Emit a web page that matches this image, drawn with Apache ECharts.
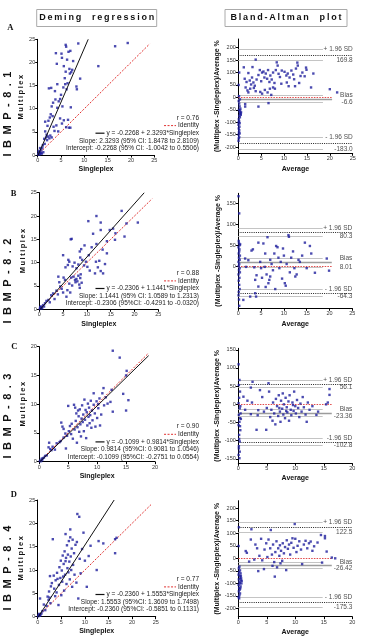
<!DOCTYPE html>
<html>
<head>
<meta charset="utf-8">
<script src="https://cdn.jsdelivr.net/npm/echarts@6/dist/echarts.min.js"></script>
<style>
html, body { margin: 0; padding: 0; background: #fff; }
#chart { width: 384px; height: 644px; }
</style>
</head>
<body>
<div id="chart"></div>
<script>
// ---- Deming regression points (Singleplex, Multiplex) ----
var demingA = [[0.1,0.1],[0.2,0.3],[0.3,0.1],[0.4,0.5],[0.5,0.2],[0.6,0.8],[0.3,0.6],[0.7,0.4],[0.8,1.2],[0.9,0.3],[1.0,1.6],[1.2,0.6],[0.5,1.5],[1.1,2.1],[0.2,0.9],
  [1.4,3.5],[1.5,2.4],[1.8,3.8],[1.6,5.1],[2.0,3.2],[2.2,4.0],[2.5,3.6],[1.9,4.4],[2.7,4.2],[3.0,3.8],[1.6,7.2],[2.3,7.4],[2.6,8.1],[2.8,8.8],[3.2,8.4],[2.1,6.3],[3.4,6.1],[3.6,5.2],[4.0,6.4],[4.4,5.1],[4.8,7.9],[5.2,6.8],[5.6,7.5],[6.1,6.0],[6.7,5.9],[6.5,7.6],[7.1,10.3],[7.0,5.9],
  [3.0,10.5],[3.3,11.3],[3.8,12.0],[4.2,10.2],[4.5,11.6],[4.8,12.1],[5.0,13.0],[5.3,10.5],[5.5,14.6],[5.9,15.3],[6.2,14.2],[2.4,14.4],[2.9,14.5],[3.7,13.8],[4.2,15.3],[5.8,16.6],[6.0,18.0],[6.4,15.5],[6.9,17.6],[7.2,17.9],[7.4,18.4],[6.8,18.6],[5.6,19.2],[6.3,20.6],[5.2,21.0],[7.6,20.3],[8.3,14.8],[8.4,14.2],[9.1,16.5],[4.1,19.7],[6.6,22.3],[3.9,22.0],[5.1,21.9],[6.0,23.8],[6.1,23.4],[8.7,24.1],[7.0,22.5],
  [13.0,19.2],[16.6,23.5],[19.3,24.2]];
var demingB = [[0.1,0.1],[0.2,0.3],[0.3,0.2],[0.4,0.6],[0.5,0.4],[0.2,0.5],[0.6,0.2],[0.8,0.9],[1.0,0.6],[1.2,1.3],[1.5,1.8],[1.9,2.0],[2.2,1.5],[2.5,3.0],[2.9,3.4],[3.2,2.2],[3.6,4.0],[3.9,3.2],[4.0,7.0],[4.4,4.9],[4.2,5.8],[4.7,4.4],[5.0,3.6],[5.1,6.8],[5.4,6.3],[5.7,2.7],[5.9,4.1],[6.3,5.5],[6.5,3.6],[6.7,6.8],[6.9,5.1],[7.2,7.0],[7.5,6.3],[7.6,5.8],[7.8,6.5],[8.0,6.0],[8.2,7.2],[8.4,5.3],[8.5,4.6],[8.6,6.7],[8.7,7.5],[8.9,5.7],
  [6.0,9.5],[6.3,10.2],[6.1,10.6],[5.0,11.6],[5.5,9.0],[7.0,9.2],[7.4,10.0],[7.8,8.8],[8.2,9.6],[8.5,12.4],[8.8,12.9],[8.6,11.1],[9.0,10.6],[9.4,9.4],[9.8,10.2],[10.1,9.1],[10.4,11.6],[10.6,8.3],[11.0,13.3],[11.7,7.7],[11.9,10.2],[12.3,9.0],[12.6,10.4],[12.9,8.2],[13.4,7.7],[13.3,12.8],[13.8,9.7],[14.2,12.0],[6.8,15.1],[6.6,15.0],[10.3,18.9],[12.0,20.0],[12.9,18.6],[12.9,17.0],[14.8,17.0],[14.2,14.6],[15.9,14.9],[15.5,17.3],[16.0,16.3],[17.3,21.1],[17.9,15.6],[18.3,18.4],[20.7,18.6],[12.0,14.0],[11.3,16.2],[9.5,13.7]];
var demingC = [[0.1,0.1],[0.2,0.2],[0.3,0.1],[0.4,0.5],[0.5,0.3],[0.6,0.6],[0.8,0.7],[1.0,1.0],[1.3,1.1],[1.6,2.5],[1.7,3.3],[1.9,2.2],[2.1,2.0],[2.3,2.6],[3.5,3.4],[3.7,3.6],[3.8,6.8],[4.0,6.1],[4.2,5.7],[4.5,4.9],[4.6,2.3],[4.8,4.5],[5.1,5.3],[5.3,6.2],[5.5,4.8],[5.6,6.6],[5.8,4.0],[6.0,9.9],[6.1,5.6],[6.3,7.1],[6.4,8.4],[6.5,3.3],[6.6,6.0],[6.7,8.9],[6.8,7.9],[6.9,5.2],[7.0,9.1],[7.1,6.5],[7.2,4.4],[7.3,7.5],[7.4,9.8],[7.5,6.9],[7.6,8.2],[7.7,5.3],[7.8,10.8],[7.9,7.3],[8.0,9.0],[8.1,4.1],[8.2,8.6],[8.3,6.3],[8.4,10.1],[8.5,7.8],[8.6,9.4],[8.7,6.7],[8.8,8.1],[8.9,10.6],[9.0,5.9],[9.1,8.9],[9.2,7.2],[9.4,9.9],[9.6,8.4],[9.7,6.1],[9.9,10.5],[10.0,7.6],[10.2,9.3],[10.4,11.0],[10.5,6.3],[10.7,8.2],[10.9,11.9],[11.1,12.8],[11.2,9.8],[11.5,11.2],[11.8,10.1],[12.3,10.4],[12.5,12.5],[12.7,8.7],[12.7,19.3],[13.9,18.1],[14.5,11.8],[15.0,8.9],[15.1,15.8],[15.4,10.7],[15.0,15.0],[9.4,11.9],[10.2,10.0],[6.2,9.4],[5.0,9.7],[4.2,4.2],[3.0,3.2],[2.7,2.1]];
var demingD = [[0.1,0.1],[0.2,0.3],[0.3,0.2],[0.4,0.4],[0.5,0.2],[0.6,0.5],[0.3,0.6],[0.8,0.7],[1.0,1.2],[0.5,3.9],[1.3,2.6],[1.6,1.4],[1.9,2.3],[2.1,4.3],[2.3,3.6],[2.5,4.1],[2.7,2.9],[2.4,5.4],[2.8,6.5],[2.6,8.7],[3.0,7.2],[3.2,16.6],[3.4,8.8],[3.5,6.0],[3.7,4.4],[3.8,7.8],[4.0,5.2],[4.1,9.4],[4.2,8.1],[4.4,2.5],[4.5,6.8],[4.6,10.6],[4.8,8.3],[4.9,12.0],[5.0,4.6],[5.1,9.9],[5.2,7.5],[5.3,13.1],[5.4,8.6],[5.5,11.3],[5.6,5.6],[5.7,14.0],[5.8,9.0],[5.9,11.9],[6.0,12.6],[6.1,7.0],[6.2,15.3],[6.3,10.4],[6.4,13.3],[6.5,9.5],[6.6,16.2],[6.7,11.8],[6.8,8.0],[6.9,18.7],[7.0,12.9],[7.1,10.0],[7.2,14.6],[7.3,6.4],[7.4,16.5],[7.5,11.1],[7.7,13.6],[7.8,9.0],[8.0,15.4],[8.2,7.3],[8.3,16.0],[8.4,22.0],[8.6,3.9],[8.8,21.4],[8.9,12.4],[9.1,9.3],[9.4,14.5],[9.7,18.0],[10.0,12.0],[10.4,6.4],[10.8,13.0],[11.2,15.2],[12.5,10.0],[12.9,16.2],[13.9,15.7],[16.4,13.6],[16.4,16.6],[16.7,16.9],[6.9,17.0],[5.9,17.7]];

// Deming fit and identity line end points
var fitA = [[0,-0.2268],[10.83,25]], identA = [[0,0],[24,24]];
var fitB = [[0,-0.2306],[22.05,25]], identB = [[0,0],[23.7,23.7]];
var fitC = [[0,-0.1099],[18.9,18.44]], identC = [[0,0],[18.9,18.9]];
var fitD = [[0,-0.2360],[16.2,25]], identD = [[0,0],[24,24]];

var statsA = ['r = 0.76', 'Identity', 'y = -0.2268 + 2.3293*Singleplex', 'Slope: 2.3293 (95% CI: 1.8478 to 2.8109)', 'Intercept: -0.2268 (95% CI: -1.0042 to 0.5506)'];
var statsB = ['r = 0.88', 'Identity', 'y = -0.2306 + 1.1441*Singleplex', 'Slope: 1.1441 (95% CI: 1.0589 to 1.2313)', 'Intercept: -0.2306 (95%CI: -0.4291 to -0.0320)'];
var statsC = ['r = 0.90', 'Identity', 'y = -0.1099 + 0.9814*Singleplex', 'Slope: 0.9814 (95%CI: 0.9081 to 1.0546)', 'Intercept: -0.1099 (95%CI: -0.2751 to 0.0554)'];
var statsD = ['r = 0.77', 'Identity', 'y = -0.2360 + 1.5553*Singleplex', 'Slope: 1.5553 (95%CI: 1.3609 to 1.7498)', 'Intercept: -0.2360 (95%CI: -0.5851 to 0.1131)'];

// ---- Bland-Altman points (Average, difference %) ----
var baA = [[0.05,-175],[0.1,-165],[0.08,-150],[0.15,-140],[0.2,-132],[0.1,-125],[0.25,-118],[0.05,-110],[0.3,-104],[0.18,-96],[0.12,-88],[0.35,-80],[0.22,-74],[0.4,-66],[0.3,-58],[0.15,-50],[0.5,-64],[0.45,-45],[0.6,-60],[0.28,-36],[0.2,-25],[0.1,-15],[0.35,-8],[0.15,5],[0.08,50],[0.2,100],[0.4,-52],[0.55,-70],[0.1,-100],[0.3,-145],[0.2,-160],
  [1.2,121],[3.1,122],[3.8,152],[8.4,141],[8.6,128],[12.9,140],[13.0,128],[14.8,120],[14.9,111],[1.4,75],[1.8,62],[2.2,98],[2.5,68],[2.8,52],[3.0,80],[3.3,60],[3.6,47],[4.0,72],[4.4,90],[4.7,110],[5.0,65],[5.2,100],[5.5,104],[5.7,80],[6.0,96],[6.3,75],[6.5,110],[6.8,62],[7.0,88],[7.3,72],[7.6,100],[7.9,58],[8.2,110],[8.8,95],[9.1,82],[9.5,108],[10.1,103],[10.5,88],[10.8,96],[11.2,80],[11.6,108],[12.0,92],[12.2,73],[12.6,116],[13.3,58],[13.6,86],[14.0,100],[14.5,85],[16.4,96],
  [1.6,40],[2.0,28],[2.6,35],[3.4,38],[4.8,22],[5.8,30],[6.4,20],[7.2,10],[8.0,35],[9.4,55],[10.6,60],[11.0,45],[12.4,45],[15.9,40],[20.0,33],[21.6,20],[1.5,-27],[1.5,-37],[4.4,-37],[6.6,-23],[5.2,15],[3.8,25],[2.2,20],[6.9,35],[7.6,40]];
var baB = [[0.05,167],[0.2,126],[0.1,60],[0.15,55],[0.3,50],[0.05,45],[0.25,40],[0.2,35],[0.1,30],[0.35,25],[0.15,20],[0.3,15],[0.05,10],[0.2,5],[0.1,0],[0.3,-5],[0.15,-10],[0.05,-20],[0.25,-28],[0.1,-35],[0.2,-45],[0.3,-55],[0.1,-62],[0.05,-70],[0.15,-80],[0.2,-95],[0.4,52],[0.35,-15],
  [1.1,-81],[1.7,-2],[1.5,18],[2.2,14],[2.6,-73],[2.9,37],[3.2,40],[3.7,-33],[3.7,-65],[3.9,-73],[4.0,-22],[4.4,-49],[4.4,56],[4.8,10],[5.0,-5],[5.5,54],[5.8,-2],[5.9,30],[6.2,-20],[6.4,69],[6.6,-41],[6.8,-33],[7.0,-25],[7.0,15],[7.3,5],[7.6,-10],[7.9,30],[8.3,48],[8.6,45],[8.8,20],[9.0,-5],[9.3,10],[9.6,-30],[10.0,25],[10.2,-41],[10.4,-47],[10.6,5],[11.0,74],[11.1,70],[11.3,-15],[11.6,20],[12.0,35],[12.3,-5],[12.8,-20],[13.2,15],[13.5,10],[14.0,25],[14.6,56],[15.0,-5],[15.7,48],[16.0,30],[16.8,-16],[19.4,18],[19.9,-11],[8.1,-55],[6.0,-50],[5.2,-28],[3.5,-3],[9.8,42],[12.5,-25]];
var baC = [[0.05,110],[0.2,67],[0.1,53],[0.3,35],[0.15,18],[0.05,3],[0.25,-11],[0.1,-29],[0.3,-38],[0.2,-48],[0.05,-57],[0.35,-71],[0.15,-84],[0.25,-102],[0.1,-121],[0.05,-139],[0.2,-148],[0.4,-25],[0.45,-40],[0.3,-60],[0.15,-95],[0.35,-5],[0.1,-115],[0.25,-130],
  [0.9,21],[1.2,-15],[1.6,10],[2.2,46],[2.5,62],[2.2,-27],[2.4,5],[3.2,-70],[3.5,-16],[3.8,39],[3.4,-30],[4.2,20],[4.5,-20],[4.9,-70],[5.0,-10],[5.3,58],[5.4,35],[5.6,-35],[5.8,-15],[6.0,-45],[6.1,5],[6.3,-25],[6.5,-55],[6.6,15],[6.8,-5],[7.0,-32],[7.1,25],[7.3,-20],[7.4,-48],[7.5,10],[7.7,-12],[7.8,30],[7.9,-28],[8.0,0],[8.2,-38],[8.3,18],[8.5,-8],[8.6,-22],[8.8,8],[8.9,-45],[9.0,25],[9.2,-15],[9.3,-30],[9.5,5],[9.7,-18],[9.8,35],[10.0,-5],[10.1,-25],[10.3,12],[10.5,-10],[10.7,-35],[10.9,2],[11.1,-20],[11.3,20],[11.5,-8],[11.8,-28],[12.0,-48],[12.2,5],[12.5,-15],[13.0,-5],[13.7,-29],[14.0,-20],[15.4,0],[15.7,5],[16.0,26],[16.0,42],[7.2,-10],[8.4,-18],[9.6,-2]];
var baD = [[0.1,124],[0.05,49],[0.2,-33],[0.1,-40],[0.3,-48],[0.15,-55],[0.4,-60],[0.05,-65],[0.25,-70],[0.35,-78],[0.1,-84],[0.45,-88],[0.2,-95],[0.3,-100],[0.05,-106],[0.4,-112],[0.15,-118],[0.25,-125],[0.5,-80],[0.55,-100],[0.1,-132],[0.3,-140],[0.2,-148],[0.05,-155],[0.35,-120],[0.45,-70],[0.6,-90],[0.15,-160],
  [1.3,29],[1.5,22],[1.9,-13],[2.2,75],[2.3,116],[2.8,-5],[3.0,55],[3.3,40],[3.5,-51],[3.7,10],[4.0,78],[4.2,-8],[4.5,-43],[4.6,35],[4.9,60],[5.1,5],[5.3,75],[5.6,40],[5.7,113],[5.9,15],[6.1,55],[6.3,-15],[6.4,-73],[6.5,25],[6.7,68],[6.8,-36],[7.0,40],[7.2,10],[7.3,52],[7.5,30],[7.7,-10],[7.8,60],[8.0,20],[8.2,45],[8.4,-47],[8.5,72],[8.7,38],[8.9,55],[9.1,15],[9.3,62],[9.5,80],[9.7,42],[9.9,137],[10.0,78],[10.2,25],[10.4,50],[10.7,68],[11.0,35],[11.2,-23],[11.5,55],[11.8,70],[12.1,40],[12.4,60],[12.7,67],[13.0,30],[13.3,48],[13.9,63],[14.5,93],[14.7,-17],[15.2,80],[15.2,89],[15.5,27],[16.4,3],[17.0,0],[6.0,-30],[7.4,-20]];

// upper limit, bias, lower limit
var limitsA = [169.8, -6.6, -183.0];
var limitsB = [80.3, 8.01, -64.3];
var limitsC = [56.1, -23.36, -102.8];
var limitsD = [122.5, -26.42, -175.3];
// confidence bands (hi, lo) of upper limit, bias, lower limit
var bandsA = [195, 151, 8, -20, -161, -209];
var bandsB = [90, 71, 18, -2, -55, -73];
var bandsC = [65, 46, -14, -33, -92, -113];
var bandsD = [144, 104, -14, -38, -157, -194];
var limitTextA = ['169.8', '-6.6', '-183.0'];
var limitTextB = ['80.3', '8.01', '-64.3'];
var limitTextC = ['56.1', '-23.36', '-102.8'];
var limitTextD = ['122.5', '-26.42', '-175.3'];
var lowerSdText = ['- 1.96 SD', '- 1.96 SD', '-1.96 SD', '- 1.96 SD'];

var baTicksA = [-200, -150, -100, -50, 0, 50, 100, 150, 200];
var baTicksB = [0, 50, 100, 150];
var baTicksC = [-150, -100, -50, 0, 50, 100, 150];
var baTicksD = [-200, -150, -100, -50, 0, 50, 100, 150, 200];

var FONT = '"Liberation Sans", Arial, Helvetica, sans-serif';
var TS = '\u2009';

// layout: [left, top, width, height]
var demingPanels = [
  { box: [37.7, 39.3, 116.6, 115.7], xMax: 25, yMax: 25, pts: demingA, fit: fitA, ident: identA, stats: statsA, statY: 118 },
  { box: [39.3, 192.7, 119, 116.6], xMax: 25, yMax: 25, pts: demingB, fit: fitB, ident: identB, stats: statsB, statY: 273.3 },
  { box: [39.3, 346.7, 115.7, 115], xMax: 20, yMax: 20, pts: demingC, fit: fitC, ident: identC, stats: statsC, statY: 426.7 },
  { box: [37.7, 500, 118, 116.7], xMax: 25, yMax: 25, pts: demingD, fit: fitD, ident: identD, stats: statsD, statY: 579.3 }
];
var baPanels = [
  { box: [238.3, 39, 114.4, 114.3], xMax: 25, yMin: -225, yMax: 235, pts: baA, lim: limitsA, band: bandsA, txt: limitTextA, ticks: baTicksA, gap: 12.5 },
  { box: [238.3, 193.3, 114, 115], xMax: 25, yMin: -101, yMax: 174, pts: baB, lim: limitsB, band: bandsB, txt: limitTextB, ticks: baTicksB, gap: 12.5 },
  { box: [238.3, 348.3, 114, 115], xMax: 20, yMin: -162, yMax: 154, pts: baC, lim: limitsC, band: bandsC, txt: limitTextC, ticks: baTicksC, gap: 11 },
  { box: [238.3, 500.7, 114, 116], xMax: 20, yMin: -233, yMax: 230, pts: baD, lim: limitsD, band: bandsD, txt: limitTextD, ticks: baTicksD, gap: 12 }
];

var measureCtx = document.createElement('canvas').getContext('2d');
function textWidth(s, size) {
  measureCtx.font = size + 'px "Liberation Sans", Arial, sans-serif';
  return measureCtx.measureText(s).width;
}

var axisCommon = {
  axisLine: { show: true, onZero: false, lineStyle: { color: '#000', width: 1 } },
  axisTick: { show: true, length: 2.5, lineStyle: { color: '#000', width: 1 } },
  axisLabel: { fontSize: 5.5, color: '#333', margin: 2.5, fontFamily: FONT },
  splitLine: { show: false }
};
function axis(extra) {
  return Object.assign({}, JSON.parse(JSON.stringify(axisCommon)), extra);
}

var grids = [], xAxes = [], yAxes = [], series = [], graphics = [];
var dotColor = '#1e1e9c';

demingPanels.forEach(function (p, i) {
  grids.push({ left: p.box[0], top: p.box[1], width: p.box[2], height: p.box[3] });
  xAxes.push(axis({ gridIndex: i, type: 'value', min: 0, max: p.xMax, interval: 5,
    name: 'Singleplex', nameLocation: 'middle', nameGap: 11,
    nameTextStyle: { fontSize: 7, fontWeight: 'bold', color: '#111', fontFamily: FONT } }));
  yAxes.push(axis({ gridIndex: i, type: 'value', min: 0, max: p.yMax, interval: 5,
    name: 'M u l t i p l e x'.split(' ').join(TS), nameLocation: 'middle', nameGap: 12,
    nameTextStyle: { fontSize: 7.5, fontWeight: 'bold', color: '#111', fontFamily: FONT } }));
  series.push({ type: 'scatter', xAxisIndex: i, yAxisIndex: i, data: p.pts, symbol: 'rect', symbolSize: 2.4,
    itemStyle: { color: dotColor }, silent: true, z: 3 });
  series.push({ type: 'line', xAxisIndex: i, yAxisIndex: i, data: p.ident, showSymbol: false, silent: true,
    lineStyle: { color: '#e0302f', width: 1, type: [2, 1.5] }, z: 2 });
  series.push({ type: 'line', xAxisIndex: i, yAxisIndex: i, data: p.fit, showSymbol: false, silent: true,
    lineStyle: { color: '#111', width: 1 }, z: 4 });

  // statistics block, right aligned
  var rightX = 199, step = 7.6;
  p.stats.forEach(function (s, k) {
    graphics.push({ type: 'text', x: rightX, y: p.statY + k * step, silent: true,
      style: { text: s, fontSize: 6.5, fontFamily: FONT, fill: '#222', align: 'right', verticalAlign: 'middle' } });
  });
  var wId = textWidth(p.stats[1], 6.5);
  var wEq = textWidth(p.stats[2], 6.5);
  var yId = p.statY + step, yEq = p.statY + 2 * step;
  graphics.push({ type: 'line', silent: true,
    shape: { x1: rightX - wId - 14, y1: yId, x2: rightX - wId - 2, y2: yId },
    style: { stroke: '#e0302f', lineWidth: 1, lineDash: [2, 1.5] } });
  graphics.push({ type: 'line', silent: true,
    shape: { x1: rightX - wEq - 11, y1: yEq, x2: rightX - wEq - 2, y2: yEq },
    style: { stroke: '#111', lineWidth: 1.2 } });
});

baPanels.forEach(function (p, j) {
  var i = j + 4;
  grids.push({ left: p.box[0], top: p.box[1], width: p.box[2], height: p.box[3] });
  xAxes.push(axis({ gridIndex: i, type: 'value', min: 0, max: p.xMax, interval: 5,
    name: 'Average', nameLocation: 'middle', nameGap: p.gap,
    nameTextStyle: { fontSize: 7, fontWeight: 'bold', color: '#111', fontFamily: FONT } }));
  var ya = axis({ gridIndex: i, type: 'value', min: p.yMin, max: p.yMax,
    name: '(Multiplex -Singleplex)/Average %', nameLocation: 'middle', nameGap: 17,
    nameTextStyle: { fontSize: 7, fontWeight: 'bold', color: '#111', fontFamily: FONT } });
  ya.axisLabel.customValues = p.ticks;
  ya.axisTick.customValues = p.ticks;
  yAxes.push(ya);

  var xe = p.xMax * 0.74, xz = p.xMax * 0.82;
  var gray = { color: '#c4c4c4', width: 1, type: 'solid' };
  var dotted = { color: '#222', width: 1, type: [1, 1.2] };
  var lines = [];
  p.band.forEach(function (v) {
    lines.push([{ coord: [0, v], lineStyle: gray }, { coord: [xe, v] }]);
  });
  lines.push([{ coord: [0, p.lim[0]], lineStyle: dotted }, { coord: [p.xMax, p.lim[0]] }]);
  lines.push([{ coord: [0, p.lim[2]], lineStyle: dotted }, { coord: [p.xMax, p.lim[2]] }]);
  lines.push([{ coord: [0, p.lim[1]], lineStyle: { color: '#9c9c9c', width: 1.3, type: 'solid' } }, { coord: [xz, p.lim[1]] }]);
  lines.push([{ coord: [0, 0], lineStyle: { color: '#e24a4a', width: 1, type: [1.5, 1.2] } }, { coord: [xz, 0] }]);

  series.push({ type: 'scatter', xAxisIndex: i, yAxisIndex: i, data: p.pts, symbol: 'rect', symbolSize: 2.4,
    itemStyle: { color: dotColor }, silent: true, z: 3,
    markLine: { silent: true, symbol: 'none', label: { show: false }, animation: false, data: lines, z: 1 } });

  var labelPts = [
    [p.xMax, p.band[0], '+ 1.96 SD'], [p.xMax, p.band[1], p.txt[0]],
    [p.xMax, p.band[2], 'Bias'], [p.xMax, p.band[3], p.txt[1]],
    [p.xMax, p.band[4], lowerSdText[j]], [p.xMax, p.band[5], p.txt[2]]
  ];
  series.push({ type: 'scatter', xAxisIndex: i, yAxisIndex: i, data: labelPts, symbolSize: 0, silent: true, clip: false,
    label: { show: true, position: 'left', distance: 0, fontSize: 6.5, fontFamily: FONT, color: '#222',
      formatter: function (q) { return q.data[2]; } } });
});

// titles, panel letters and row labels
function titleBox(x, w, text) {
  graphics.push({ type: 'rect', silent: true, shape: { x: x, y: 9.5, width: w, height: 17 },
    style: { fill: '#fff', stroke: '#aaa', lineWidth: 1 } });
  graphics.push({ type: 'text', silent: true, x: x + w / 2, y: 18,
    style: { text: text, fontSize: 9, fontWeight: 'bold', fontFamily: FONT, fill: '#111', align: 'center', verticalAlign: 'middle' } });
}
function spaced(word) { return word.split('').join(TS); }
titleBox(36.7, 120, spaced('Deming') + '\u2009\u2002\u2002' + spaced('regression'));
titleBox(225, 122, spaced('Bland-Altman') + '\u2009\u2002\u2002' + spaced('plot'));

var panelLetters = ['A', 'B', 'C', 'D'];
var letterPos = [[10.3, 27.8], [13.7, 193.8], [14.2, 346.3], [13.8, 494.7]];
var rowLabels = ['IBMP-8.1', 'IBMP-8.2', 'IBMP-8.3', 'IBMP-8.4'];
var rowY = [114, 281, 416, 568];
panelLetters.forEach(function (l, k) {
  graphics.push({ type: 'text', silent: true, x: letterPos[k][0], y: letterPos[k][1],
    style: { text: l, fontSize: 8.5, fontWeight: 'bold', fontFamily: '"Liberation Serif", "Times New Roman", serif', fill: '#111', align: 'center', verticalAlign: 'middle' } });
  graphics.push({ type: 'text', silent: true, x: 7.5, y: rowY[k], rotation: Math.PI / 2,
    style: { text: rowLabels[k].split('').join('\u2002'), fontSize: 11, fontWeight: 'bold', fontFamily: FONT, fill: '#111', align: 'center', verticalAlign: 'middle' } });
});

var chart = echarts.init(document.getElementById('chart'), null, { renderer: 'canvas' });
chart.setOption({
  animation: false,
  backgroundColor: '#fff',
  grid: grids,
  xAxis: xAxes,
  yAxis: yAxes,
  series: series,
  graphic: graphics
});
</script>
</body>
</html>
